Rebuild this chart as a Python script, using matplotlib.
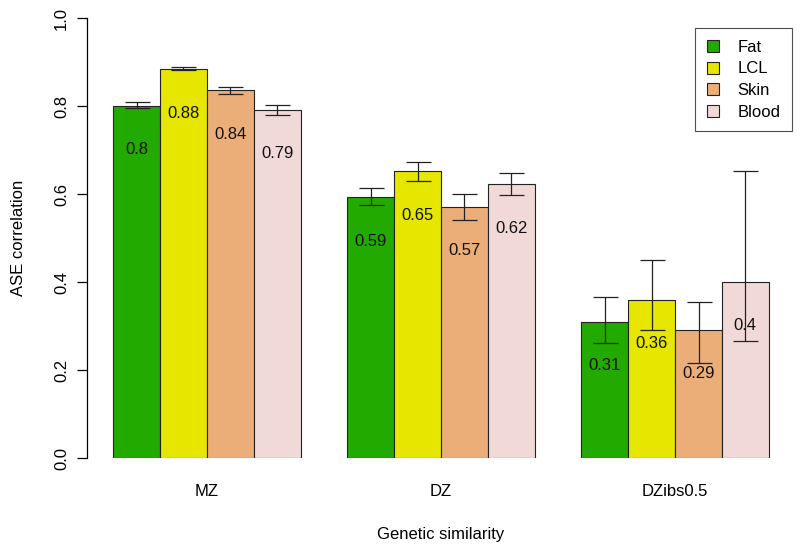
import numpy as np
import matplotlib.pyplot as plt

plt.rcParams['font.family'] = ['Liberation Sans', 'DejaVu Sans']

groups = ['MZ', 'DZ', 'DZibs0.5']
tissues = ['Fat', 'LCL', 'Skin', 'Blood']
colors = ['#22aa00', '#e6e600', '#ebae78', '#f0d9d6']

# correlation per tissue, one value per group
fat = [0.80, 0.593, 0.310]
lcl = [0.884, 0.652, 0.360]
skin = [0.836, 0.571, 0.291]
blood = [0.791, 0.622, 0.400]

fat_lo = [0.795, 0.574, 0.262]
fat_hi = [0.808, 0.613, 0.365]
lcl_lo = [0.881, 0.630, 0.292]
lcl_hi = [0.889, 0.673, 0.449]
skin_lo = [0.827, 0.541, 0.217]
skin_hi = [0.843, 0.600, 0.355]
blood_lo = [0.780, 0.597, 0.266]
blood_hi = [0.802, 0.648, 0.653]

values = [fat, lcl, skin, blood]
lows = [fat_lo, lcl_lo, skin_lo, blood_lo]
highs = [fat_hi, lcl_hi, skin_hi, blood_hi]

fig = plt.figure(figsize=(8, 5.5), dpi=100)
ax = fig.add_axes([87 / 800, 92 / 550, 708 / 800, 440 / 550])

n = len(tissues)
group_start = np.arange(len(groups)) * (n + 1) + 1
for i in range(n):
    x = group_start + i + 0.5
    v = np.array(values[i])
    ax.bar(x, v, width=1.0, color=colors[i], edgecolor='#222222',
           linewidth=0.8, label=tissues[i], zorder=2)
    yerr = [v - np.array(lows[i]), np.array(highs[i]) - v]
    ax.errorbar(x, v, yerr=yerr, fmt='none', ecolor='#222222',
                elinewidth=0.9, capsize=9, capthick=0.9, zorder=3)
    for xx, vv in zip(x, v):
        ax.text(xx, vv - 0.1, f'{round(vv, 2):g}', ha='center',
                va='center', fontsize=12, color='#111111', zorder=4)

ax.set_xlim(0.44, 15.56)
ax.set_ylim(0, 1)
ax.set_xticks(group_start + n / 2)
ax.set_xticklabels(groups, fontsize=12)
ax.tick_params(axis='x', length=0, pad=19)
ax.set_yticks([0, 0.2, 0.4, 0.6, 0.8, 1.0])
ax.set_yticklabels(['0.0', '0.2', '0.4', '0.6', '0.8', '1.0'],
                   rotation=90, va='center', fontsize=12)
ax.tick_params(axis='y', length=7, width=0.9, pad=6)

for side in ['top', 'right', 'bottom']:
    ax.spines[side].set_visible(False)
ax.spines['left'].set_bounds(0, 1)
ax.spines['left'].set_linewidth(0.9)

ax.set_ylabel('ASE correlation', fontsize=12, labelpad=20)
ax.set_xlabel('Genetic similarity', fontsize=12, va='center')
ax.xaxis.set_label_coords(0.5, (458 - 535) / 440)

leg = ax.legend(loc='upper right', bbox_to_anchor=(0.996, 0.977),
                fontsize=12, fancybox=False, edgecolor='#222222',
                handlelength=0.75, handleheight=0.75, handletextpad=1.1,
                borderpad=0.7, labelspacing=0.4, borderaxespad=0)
leg.get_frame().set_linewidth(0.8)

plt.savefig('out.png', dpi=100)
